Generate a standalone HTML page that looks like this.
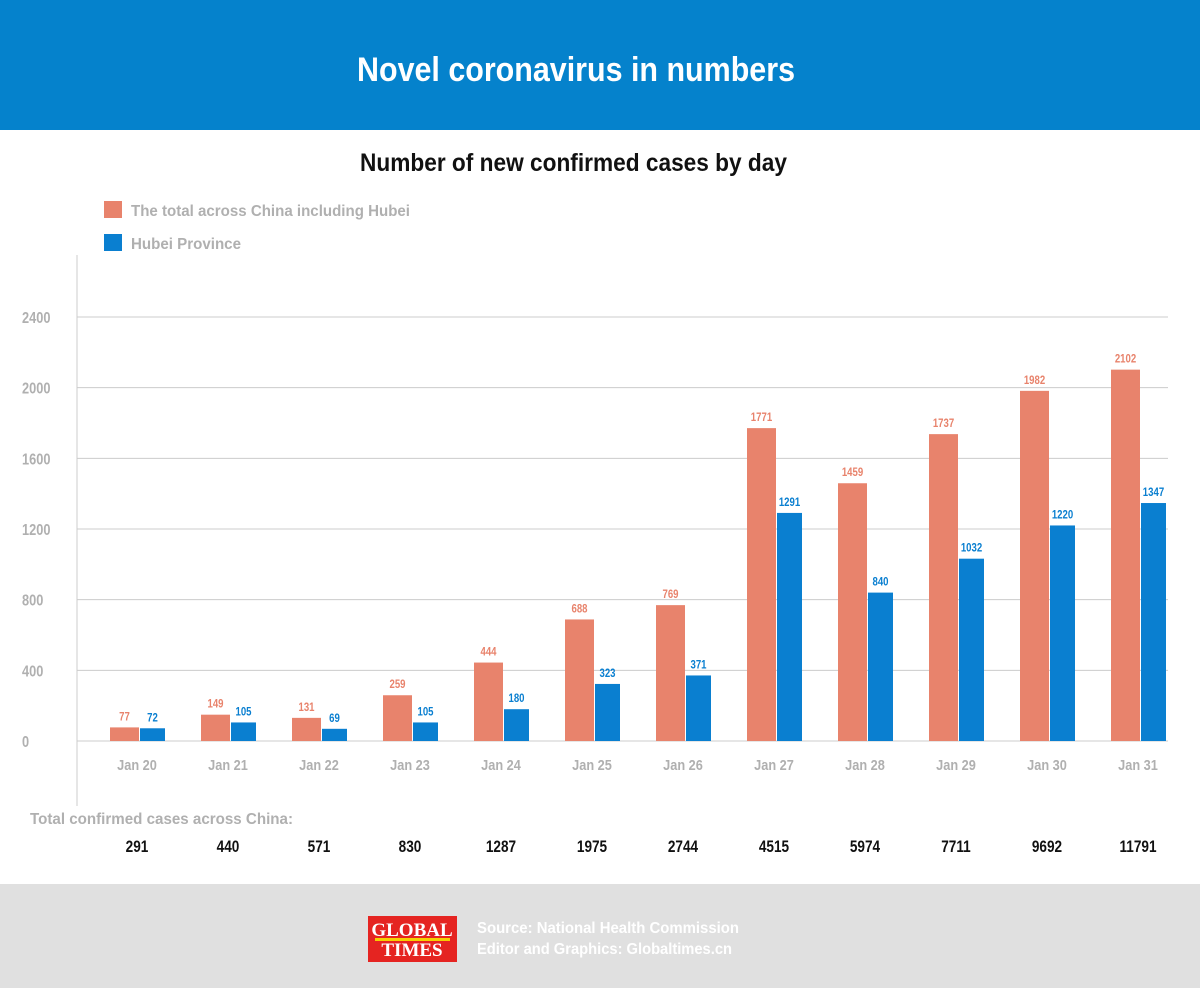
<!DOCTYPE html>
<html><head><meta charset="utf-8"><style>
body{margin:0;width:1200px;height:988px;overflow:hidden;background:#fff;font-family:"Liberation Sans Narrow","Liberation Sans",sans-serif;}
svg text{font-family:"Liberation Sans Narrow","Liberation Sans",sans-serif;font-weight:bold;}
</style></head><body>
<svg id="chart" width="1200" height="988">
<rect x="0" y="0" width="1200" height="130" fill="#0582cc"/>
<text x="357" y="81" fill="#fff" font-size="34" textLength="438" lengthAdjust="spacingAndGlyphs">Novel coronavirus in numbers</text>
<text x="360" y="171" fill="#111" font-size="25" textLength="427" lengthAdjust="spacingAndGlyphs">Number of new confirmed cases by day</text>
<rect x="104" y="201" width="18" height="17" fill="#e8836c"/>
<text x="131" y="216" fill="#b0b0b0" font-size="16" textLength="279" lengthAdjust="spacingAndGlyphs">The total across China including Hubei</text>
<rect x="104" y="234" width="18" height="17" fill="#0a7fd0"/>
<text x="131" y="249" fill="#b0b0b0" font-size="16" textLength="110" lengthAdjust="spacingAndGlyphs">Hubei Province</text>
<line x1="77" y1="255" x2="77" y2="806" stroke="#ccc" stroke-width="1"/>
<g id="grid"></g>
<g id="bars"></g>
<text x="30" y="824" fill="#b0b0b0" font-size="16" textLength="263" lengthAdjust="spacingAndGlyphs">Total confirmed cases across China:</text>
<g id="totals"></g>
<rect x="0" y="884" width="1200" height="104" fill="#e0e0e0"/>
<g>
<rect x="368" y="916" width="89" height="46" fill="#e52421"/>
<text x="412" y="936" fill="#fff" font-size="19" text-anchor="middle" style="font-family:'Liberation Serif',serif">GLOBAL</text>
<rect x="375" y="938" width="75" height="3" fill="#f5d000"/>
<text x="412" y="956" fill="#fff" font-size="19" text-anchor="middle" style="font-family:'Liberation Serif',serif">TIMES</text>
</g>
<text x="477" y="933" fill="#fff" font-size="16" textLength="262" lengthAdjust="spacingAndGlyphs">Source: National Health Commission</text>
<text x="477" y="954" fill="#fff" font-size="16" textLength="255" lengthAdjust="spacingAndGlyphs">Editor and Graphics: Globaltimes.cn</text>
</svg>
<script>
const categories=["Jan 20","Jan 21","Jan 22","Jan 23","Jan 24","Jan 25","Jan 26","Jan 27","Jan 28","Jan 29","Jan 30","Jan 31"];
const chinaValues=[77,149,131,259,444,688,769,1771,1459,1737,1982,2102];
const hubeiValues=[72,105,69,105,180,323,371,1291,840,1032,1220,1347];
const totalValues=[291,440,571,830,1287,1975,2744,4515,5974,7711,9692,11791];
const yTicks=[0,400,800,1200,1600,2000,2400];
const NS="http://www.w3.org/2000/svg";
function y(v){return 741-v*(424/2400);}
function xg(i){return 110+i*91;}
function mk(tag,attrs,parent,txt){const e=document.createElementNS(NS,tag);for(const k in attrs)e.setAttribute(k,attrs[k]);if(txt!==undefined)e.textContent=txt;parent.appendChild(e);return e;}
function sx(el,cx,f){el.setAttribute('transform','translate('+cx+',0) scale('+f+',1) translate('+(-cx)+',0)');}
const grid=document.getElementById('grid'),bars=document.getElementById('bars'),tot=document.getElementById('totals');
yTicks.forEach(t=>{
 const l=mk('line',{x1:77,x2:1168,y1:y(t),y2:y(t),stroke:'#ccc','stroke-width':1},grid);
 
 
 const tx=mk('text',{x:22,y:y(t)+6,fill:'#b0b0b0','font-size':16},grid,String(t));
 sx(tx,22,0.8);
 
 
});
categories.forEach((c,i)=>{
 const x=xg(i);
 const a=mk('rect',{x:x,y:y(chinaValues[i]),width:29,height:741-y(chinaValues[i]),fill:'#e8836c'},bars);
 
 
 const b=mk('rect',{x:x+30,y:y(hubeiValues[i]),width:25,height:741-y(hubeiValues[i]),fill:'#0a7fd0'},bars);
 
 
 const la=mk('text',{x:x+14.5,y:y(chinaValues[i])-7,fill:'#e8836c','font-size':12,'text-anchor':'middle'},bars,String(chinaValues[i]));
 sx(la,x+14.5,0.8);
 
 
 const lb=mk('text',{x:x+42.5,y:y(hubeiValues[i])-7,fill:'#0a7fd0','font-size':12,'text-anchor':'middle'},bars,String(hubeiValues[i]));
 sx(lb,x+42.5,0.8);
 
 
 const cl=mk('text',{x:x+27,y:770,fill:'#b0b0b0','font-size':15,'text-anchor':'middle'},bars,c);
 sx(cl,x+27,0.85);
 
 
 const tv=mk('text',{x:x+27,y:852,fill:'#111','font-size':17,'text-anchor':'middle'},tot,String(totalValues[i]));
 sx(tv,x+27,0.8);
 
 
});
</script>
</body></html>
